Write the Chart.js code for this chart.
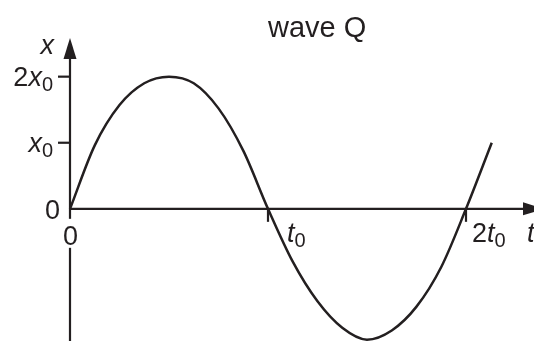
<!DOCTYPE html>
<html>
<head>
<meta charset="utf-8">
<script src="https://cdn.jsdelivr.net/npm/chart.js@4/dist/chart.umd.min.js"></script>
<style>
  html, body { margin: 0; padding: 0; background: #fff; }
  canvas { display: block; }
</style>
</head>
<body>
<canvas id="wave" width="534" height="341"></canvas>
<script>
// time in units of t0, displacement in units of x0
const timeValues = [0, 0.125, 0.25, 0.375, 0.5, 0.625, 0.75, 0.875, 1.0,
                    1.125, 1.25, 1.375, 1.5, 1.625, 1.75, 1.875, 2.0, 2.13];
const displacementValues = [0, 0.96, 1.57, 1.9, 2.0, 1.9, 1.52, 0.88, 0,
                            -0.8, -1.4, -1.8, -1.98, -1.84, -1.48, -0.88, 0, 1.0];

const yTickValues = [1, 2];
const yTickLabels = [['', 'x', '0'], ['2', 'x', '0']];
const xTickValues = [1, 2];
const xTickLabels = [['', 't', '0'], ['2', 't', '0']];

const title = 'wave Q';
const ink = '#231f20';
const FONT = '"Liberation Sans", Arial, sans-serif';

// draws a label like 2x0 : prefix upright, symbol italic, subscript smaller & lowered
function labelWidth(ctx, parts) {
    let w = 0;
    ctx.font = '27px ' + FONT;
    w += ctx.measureText(parts[0]).width;
    ctx.font = 'italic 27px ' + FONT;
    w += ctx.measureText(parts[1]).width;
    ctx.font = '20px ' + FONT;
    w += ctx.measureText(parts[2]).width;
    return w;
}
function drawLabel(ctx, parts, x, baseline, align) {
    let cx = align === 'right' ? x - labelWidth(ctx, parts) : x;
    ctx.textAlign = 'left';
    ctx.textBaseline = 'alphabetic';
    ctx.font = '27px ' + FONT;
    ctx.fillText(parts[0], cx, baseline);
    cx += ctx.measureText(parts[0]).width;
    ctx.font = 'italic 27px ' + FONT;
    ctx.fillText(parts[1], cx, baseline);
    cx += ctx.measureText(parts[1]).width;
    ctx.font = '20px ' + FONT;
    ctx.fillText(parts[2], cx, baseline + 5);
}

const axesPlugin = {
    id: 'physicsAxes',
    beforeDatasetsDraw(chart) {
        const ctx = chart.ctx;
        const xs = chart.scales.x, ys = chart.scales.y;
        const ox = xs.getPixelForValue(0), oy = ys.getPixelForValue(0);
        ctx.save();
        ctx.strokeStyle = ink;
        ctx.fillStyle = ink;
        ctx.lineWidth = 2.2;

        // y axis (runs to the bottom edge)
        ctx.beginPath();
        ctx.moveTo(ox, 55);
        ctx.lineTo(ox, chart.height);
        ctx.stroke();
        ctx.beginPath();
        ctx.moveTo(ox, 38);
        ctx.lineTo(ox - 6.5, 59);
        ctx.lineTo(ox + 6.5, 59);
        ctx.closePath();
        ctx.fill();

        // x axis
        ctx.beginPath();
        ctx.moveTo(ox, oy);
        ctx.lineTo(526, oy);
        ctx.stroke();
        ctx.beginPath();
        ctx.moveTo(544, oy);
        ctx.lineTo(523, oy - 6.5);
        ctx.lineTo(523, oy + 6.5);
        ctx.closePath();
        ctx.fill();

        // tick marks
        yTickValues.forEach(v => {
            const py = ys.getPixelForValue(v);
            ctx.beginPath();
            ctx.moveTo(ox - 12, py);
            ctx.lineTo(ox, py);
            ctx.stroke();
        });
        xTickValues.forEach(v => {
            const px = xs.getPixelForValue(v);
            ctx.beginPath();
            ctx.moveTo(px, oy);
            ctx.lineTo(px, oy + 13);
            ctx.stroke();
        });

        // gap in the y axis for the "0" under the origin
        ctx.fillStyle = '#fff';
        ctx.fillRect(ox - 4, oy + 10, 8, 29);
        ctx.restore();
    },
    afterDatasetsDraw(chart) {
        const ctx = chart.ctx;
        const xs = chart.scales.x, ys = chart.scales.y;
        const ox = xs.getPixelForValue(0), oy = ys.getPixelForValue(0);
        ctx.save();
        ctx.fillStyle = ink;
        ctx.textBaseline = 'alphabetic';

        ctx.font = '29px ' + FONT;
        ctx.textAlign = 'left';
        ctx.fillText(title, 268, 37);

        // origin labels
        ctx.font = '27px ' + FONT;
        ctx.textAlign = 'right';
        ctx.fillText('0', ox - 10, oy + 10);
        ctx.textAlign = 'center';
        ctx.fillText('0', ox + 0.5, oy + 36);

        // axis names
        ctx.font = 'italic 27px ' + FONT;
        ctx.textAlign = 'right';
        ctx.fillText('x', ox - 16, 54);
        ctx.textAlign = 'left';
        ctx.fillText('t', 527, oy + 33);

        yTickValues.forEach((v, i) => {
            drawLabel(ctx, yTickLabels[i], ox - 17, ys.getPixelForValue(v) + 9, 'right');
        });
        const xOffsets = [19, 6];
        xTickValues.forEach((v, i) => {
            drawLabel(ctx, xTickLabels[i], xs.getPixelForValue(v) + xOffsets[i], oy + 33, 'left');
        });
        ctx.restore();
    }
};

new Chart(document.getElementById('wave').getContext('2d'), {
    type: 'line',
    data: {
        datasets: [{
            data: timeValues.map((t, i) => ({ x: t, y: displacementValues[i] })),
            borderColor: ink,
            borderWidth: 2.5,
            pointRadius: 0,
            fill: false,
            cubicInterpolationMode: 'monotone',
        }],
    },
    options: {
        responsive: false,
        animation: false,
        events: [],
        layout: { padding: 0 },
        plugins: {
            legend: { display: false },
            tooltip: { enabled: false },
        },
        scales: {
            x: { type: 'linear', display: false, min: -70 / 198, max: 464 / 198 },
            y: { type: 'linear', display: false, min: -2, max: 3.16 },
        },
    },
    plugins: [axesPlugin],
});
</script>
</body>
</html>
